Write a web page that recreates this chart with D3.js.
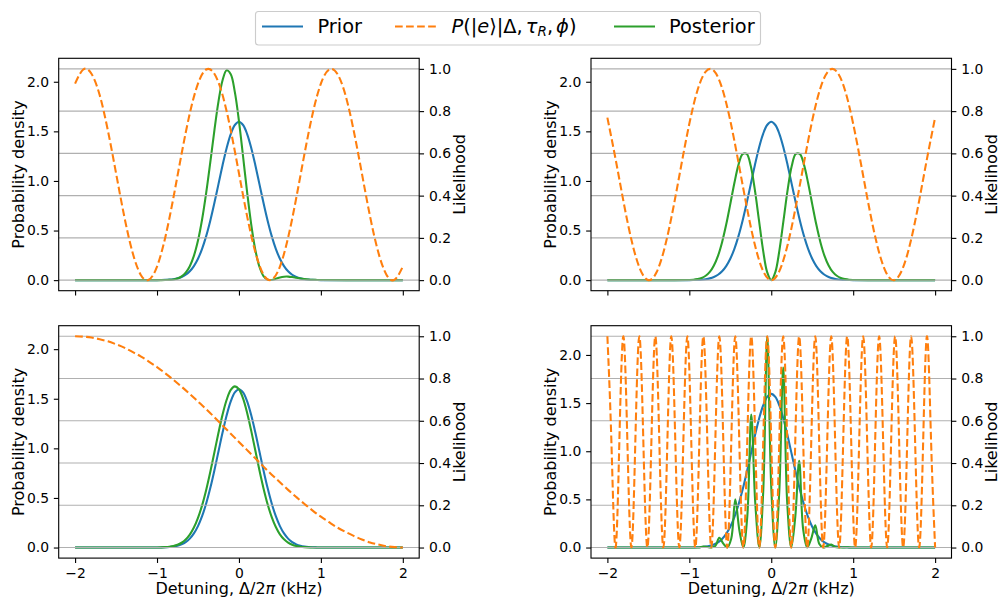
<!DOCTYPE html>
<html>
<head>
<meta charset="utf-8">
<script src="https://cdn.jsdelivr.net/npm/d3@7"></script>
<style>
  body { margin: 0; background: #fff; }
  svg { display: block; }
  text { font-family: "DejaVu Sans", sans-serif; fill: #000; }
</style>
</head>
<body>
<svg id="chart" width="999" height="597"></svg>
<script>
// ---- detuning sample grids (kHz) ----
const xCore = [-2, -1.5, -1, -0.95, -0.9, -0.85, -0.8, -0.75, -0.7, -0.65, -0.6, -0.55, -0.5, -0.45, -0.4, -0.35, -0.3, -0.25, -0.2, -0.15, -0.1, -0.05,
  0, 0.05, 0.1, 0.15, 0.2, 0.25, 0.3, 0.35, 0.4, 0.45, 0.5, 0.55, 0.6, 0.65, 0.7, 0.75, 0.8, 0.85, 0.9, 0.95, 1, 1.5, 2];
const xLik = [-2, -1.9, -1.8, -1.7, -1.6, -1.5, -1.4, -1.3, -1.2, -1.1, -1, -0.9, -0.8, -0.7, -0.6, -0.5, -0.4, -0.3, -0.2, -0.1,
  0, 0.1, 0.2, 0.3, 0.4, 0.5, 0.6, 0.7, 0.8, 0.9, 1, 1.1, 1.2, 1.3, 1.4, 1.5, 1.6, 1.7, 1.8, 1.9, 2];
const xFast = [-2.000, -1.951, -1.902, -1.854, -1.805, -1.756, -1.707, -1.659, -1.610, -1.561, -1.512, -1.463, -1.415, -1.366, -1.317, -1.268,
  -1.220, -1.171, -1.122, -1.073, -1.024, -0.976, -0.927, -0.878, -0.829, -0.780, -0.732, -0.683, -0.634, -0.585, -0.537, -0.488,
  -0.439, -0.390, -0.341, -0.293, -0.244, -0.195, -0.146, -0.098, -0.049, 0.000, 0.049, 0.098, 0.146, 0.195, 0.244, 0.293, 0.341,
  0.390, 0.439, 0.488, 0.537, 0.585, 0.634, 0.683, 0.732, 0.780, 0.829, 0.878, 0.927, 0.976, 1.024, 1.073, 1.122, 1.171, 1.220,
  1.268, 1.317, 1.366, 1.415, 1.463, 1.512, 1.561, 1.610, 1.659, 1.707, 1.756, 1.805, 1.854, 1.902, 1.951, 2.000];

// ---- prior probability density (identical in every panel) ----
const prior = [0, 0, 0.0005, 0.0012, 0.0024, 0.0049, 0.0095, 0.0177, 0.0317, 0.0543, 0.0896, 0.142, 0.216, 0.316, 0.444, 0.599, 0.777, 0.968, 1.159, 1.333, 1.473, 1.564,
  1.596, 1.564, 1.473, 1.333, 1.159, 0.968, 0.777, 0.599, 0.444, 0.316, 0.216, 0.142, 0.0896, 0.0543, 0.0317, 0.0177, 0.0095, 0.0049, 0.0024, 0.0012, 0.0005, 0, 0];

// ---- posterior densities ----
const postA = [0, 0, 0.0001, 0.0003, 0.0010, 0.0028, 0.0074, 0.0174, 0.0376, 0.0752, 0.1403, 0.2446, 0.3988, 0.611, 0.879, 1.187, 1.508, 1.800, 2.015, 2.115, 2.075, 1.895,
  1.604, 1.249, 0.885, 0.560, 0.305, 0.1349, 0.0408, 0.0041, 0.0019, 0.0142, 0.0274, 0.0350, 0.0358, 0.0314, 0.0245, 0.0174, 0.0113, 0.0068, 0.0038, 0.0021, 0.0009, 0, 0];
const postB = [0, 0, 0.002, 0.004, 0.010, 0.021, 0.044, 0.083, 0.148, 0.245, 0.383, 0.560, 0.766, 0.979, 1.162, 1.271, 1.273, 1.150, 0.910, 0.605, 0.303, 0.081,
  0, 0.081, 0.303, 0.605, 0.910, 1.150, 1.273, 1.271, 1.162, 0.979, 0.766, 0.560, 0.383, 0.245, 0.148, 0.083, 0.044, 0.021, 0.010, 0.004, 0.002, 0, 0];
const postC = [0, 0, 0.0009, 0.0020, 0.0040, 0.0079, 0.0151, 0.0275, 0.0483, 0.0808, 0.1303, 0.2015, 0.2987, 0.425, 0.581, 0.762, 0.958, 1.157, 1.340, 1.490, 1.589, 1.625,
  1.596, 1.503, 1.357, 1.176, 0.978, 0.779, 0.596, 0.436, 0.307, 0.207, 0.133, 0.0825, 0.0489, 0.0278, 0.0151, 0.0079, 0.0039, 0.0019, 0.0008, 0.0004, 0.0001, 0, 0];
const postD = [0, 0, 0, 0, 0, 0, 0, 0, 0, 0, 0, 0, 0, 0, 0, 0, 0, 0, 0, 0, 0, 0, 0,
  0.0013, 0.01, 0.0048, 0, 0.015, 0.10, 0.0405, 0, 0.093, 0.50, 0.185, 0, 0.315, 1.38, 0.462, 0, 0.579, 2.19, 0.626, 0,
  0.579, 1.87, 0.462, 0, 0.315, 0.90, 0.185, 0, 0.093, 0.23, 0.0405, 0, 0.015, 0.03, 0.0048, 0, 0.0013, 0.003, 0,
  0, 0, 0, 0, 0, 0, 0, 0, 0, 0, 0, 0, 0, 0, 0, 0, 0, 0, 0, 0, 0];

// ---- likelihood of measuring |e> ----
const likA = [0.930, 0.997, 0.977, 0.876, 0.709, 0.506, 0.302, 0.133, 0.026, 0.002, 0.064, 0.201, 0.390, 0.598, 0.789,
  0.930, 0.997, 0.977, 0.876, 0.709, 0.506, 0.302, 0.133, 0.026, 0.002, 0.064, 0.201, 0.390, 0.598, 0.789,
  0.930, 0.997, 0.977, 0.876, 0.709, 0.506, 0.302, 0.133, 0.026, 0.002, 0.064];
const likB = [0.769, 0.573, 0.365, 0.180, 0.051, 0.000, 0.037, 0.155, 0.333, 0.540, 0.740, 0.899, 0.987, 0.991, 0.909, 0.755, 0.557, 0.349, 0.167, 0.044,
  0, 0.044, 0.167, 0.349, 0.557, 0.755, 0.909, 0.991, 0.987, 0.899, 0.740, 0.540, 0.333, 0.155, 0.037, 0.000, 0.051, 0.180, 0.365, 0.573, 0.769];
const likC = [1.000, 0.998, 0.994, 0.986, 0.976, 0.962, 0.946, 0.926, 0.905, 0.880, 0.854, 0.825, 0.794, 0.761, 0.727, 0.691, 0.655, 0.617, 0.578, 0.539,
  0.500, 0.461, 0.422, 0.383, 0.345, 0.309, 0.273, 0.239, 0.206, 0.175, 0.146, 0.120, 0.095, 0.074, 0.055, 0.038, 0.024, 0.014, 0.006, 0.002, 0.000];
const likD = [1, 0.5, 0, 0.5, 1, 0.5, 0, 0.5, 1, 0.5, 0, 0.5, 1, 0.5, 0, 0.5, 1, 0.5, 0, 0.5,
  1, 0.5, 0, 0.5, 1, 0.5, 0, 0.5, 1, 0.5, 0, 0.5, 1, 0.5, 0, 0.5, 1, 0.5, 0, 0.5,
  1, 0.5, 0, 0.5, 1, 0.5, 0, 0.5, 1, 0.5, 0, 0.5, 1, 0.5, 0, 0.5, 1, 0.5, 0, 0.5,
  1, 0.5, 0, 0.5, 1, 0.5, 0, 0.5, 1, 0.5, 0, 0.5, 1, 0.5, 0, 0.5, 1, 0.5, 0, 0.5,
  1, 0.5, 0];

// ---- ticks and axis ranges ----
const detuningTicks = [-2, -1, 0, 1, 2];
const densityTicks = [0, 0.5, 1.0, 1.5, 2.0];
const likelihoodTicks = [0, 0.2, 0.4, 0.6, 0.8, 1.0];
const densityTop = [2.13, 2.13, 2.13, 2.194];   // largest density shown in each panel
const legendNames = ["Prior", "likelihood", "Posterior"];

// ---- styling ----
const C_PRIOR = "#1f77b4", C_LIK = "#ff7f0e", C_POST = "#2ca02c";
const PT = 100 / 72;               // one typographic point in px
const W = 360.5, H = 232.4;
const LEFTS = [58.7, 591.0], TOPS = [58.3, 325.7];
const TICK_FS = 13.9, LABEL_FS = 16, LEGEND_FS = 19.4;

const svg = d3.select("#chart");

const panels = [
  { col: 0, row: 0, post: postA, postX: xCore, lik: likA, likX: xLik },
  { col: 1, row: 0, post: postB, postX: xCore, lik: likB, likX: xLik },
  { col: 0, row: 1, post: postC, postX: xCore, lik: likC, likX: xLik },
  { col: 1, row: 1, post: postD, postX: xFast, lik: likD, likX: xFast }
];

const fmtX = d3.format("d");        // uses the U+2212 minus sign
const fmtY = d3.format(".1f");

panels.forEach((p, k) => {
  const g = svg.append("g").attr("transform", `translate(${LEFTS[p.col]},${TOPS[p.row]})`);
  const x = d3.scaleLinear().domain([-2.2, 2.2]).range([0, W]);
  const yL = d3.scaleLinear().domain([-0.05 * densityTop[k], 1.05 * densityTop[k]]).range([H, 0]);
  const yR = d3.scaleLinear().domain([-0.05, 1.05]).range([H, 0]);

  const clipId = "clip" + k;
  g.append("clipPath").attr("id", clipId).append("rect").attr("width", W).attr("height", H);
  const plot = g.append("g").attr("clip-path", `url(#${clipId})`);

  const smooth = d3.curveCatmullRom.alpha(0.5);
  const lineL = d3.line().x(d => x(d[0])).y(d => yL(d[1])).curve(smooth);
  const lineR = d3.line().x(d => x(d[0])).y(d => yR(d[1])).curve(d3.curveNatural);

  // density curves (left axis)
  plot.append("path").datum(d3.zip(xCore, prior)).attr("d", lineL)
    .attr("fill", "none").attr("stroke", C_PRIOR).attr("stroke-width", 1.5 * PT);
  plot.append("path").datum(d3.zip(p.postX, p.post)).attr("d", lineL)
    .attr("fill", "none").attr("stroke", C_POST).attr("stroke-width", 1.5 * PT);

  // grid belongs to the likelihood axis, drawn above the density curves
  plot.append("g").selectAll("line").data(likelihoodTicks).join("line")
    .attr("x1", 0).attr("x2", W).attr("y1", d => yR(d)).attr("y2", d => yR(d))
    .attr("stroke", "#b0b0b0").attr("stroke-width", 0.8 * PT);

  // likelihood (right axis)
  plot.append("path").datum(d3.zip(p.likX, p.lik)).attr("d", lineR)
    .attr("fill", "none").attr("stroke", C_LIK).attr("stroke-width", 1.5 * PT)
    .attr("stroke-dasharray", `${3.7 * 1.5 * PT},${1.6 * 1.5 * PT}`);

  // axes
  const styleAxis = sel => {
    sel.select(".domain").remove();
    sel.selectAll(".tick line").attr("stroke", "#000").attr("stroke-width", 0.8 * PT);
    sel.selectAll(".tick text").attr("font-size", TICK_FS).attr("font-family", "DejaVu Sans");
    sel.attr("font-size", null).attr("font-family", null);
  };
  g.append("g").call(d3.axisLeft(yL).tickValues(densityTicks).tickFormat(fmtY)
    .tickSize(3.5 * PT).tickPadding(3.5 * PT)).call(styleAxis);
  g.append("g").attr("transform", `translate(${W},0)`).call(d3.axisRight(yR).tickValues(likelihoodTicks).tickFormat(fmtY)
    .tickSize(3.5 * PT).tickPadding(3.5 * PT)).call(styleAxis);
  g.append("g").attr("transform", `translate(0,${H})`).call(d3.axisBottom(x).tickValues(detuningTicks)
    .tickFormat(p.row === 1 ? fmtX : () => "").tickSize(3.5 * PT).tickPadding(3.5 * PT)).call(styleAxis);

  // frame
  g.append("rect").attr("width", W).attr("height", H).attr("fill", "none")
    .attr("stroke", "#000").attr("stroke-width", 0.8 * PT);

  // axis titles
  g.append("text").attr("transform", `translate(-40.5,${H / 2}) rotate(-90)`)
    .attr("text-anchor", "middle").attr("dy", "0.35em").attr("font-size", LABEL_FS)
    .text("Probability density");
  g.append("text").attr("transform", `translate(${W + 40},${H / 2}) rotate(-90)`)
    .attr("text-anchor", "middle").attr("dy", "0.35em").attr("font-size", LABEL_FS)
    .text("Likelihood");
  if (p.row === 1) {
    const t = g.append("text").attr("x", W / 2).attr("y", H + 35.5)
      .attr("text-anchor", "middle").attr("font-size", LABEL_FS);
    t.append("tspan").text("Detuning, Δ/2");
    t.append("tspan").attr("font-style", "italic").text("π");
    t.append("tspan").text(" (kHz)");
  }
});

// ---- legend ----
const leg = svg.append("g");
leg.append("rect").attr("x", 255.5).attr("y", 11.5).attr("width", 505).attr("height", 33.5).attr("rx", 3)
  .attr("fill", "#fff").attr("fill-opacity", 0.8).attr("stroke", "#cccccc").attr("stroke-width", 0.8 * PT);

const handles = [
  { x: 262, color: C_PRIOR, dash: null, tx: 317.5 },
  { x: 395, color: C_LIK, dash: `${3.7 * 1.5 * PT},${1.6 * 1.5 * PT}`, tx: 451.5 },
  { x: 614, color: C_POST, dash: null, tx: 669 }
];
handles.forEach((h, i) => {
  leg.append("line").attr("x1", h.x).attr("x2", h.x + 41).attr("y1", 26.5).attr("y2", 26.5)
    .attr("stroke", h.color).attr("stroke-width", 1.5 * PT).attr("stroke-dasharray", h.dash);
  const t = leg.append("text").attr("x", h.tx).attr("y", 33.3).attr("font-size", LEGEND_FS);
  if (i !== 1) {
    t.text(legendNames[i]);
  } else {
    t.append("tspan").attr("font-style", "italic").text("P");
    t.append("tspan").text("(|");
    t.append("tspan").attr("font-style", "italic").text("e");
    t.append("tspan").text("⟩|Δ,");
    t.append("tspan").attr("font-style", "italic").attr("dx", 3).text("τ");
    t.append("tspan").attr("font-style", "italic").attr("font-size", LEGEND_FS * 0.7).attr("dy", 3).text("R");
    t.append("tspan").attr("dy", -3).text(",");
    t.append("tspan").attr("font-style", "italic").attr("dx", 3).text("ϕ");
    t.append("tspan").text(")");
  }
});
</script>
</body>
</html>
